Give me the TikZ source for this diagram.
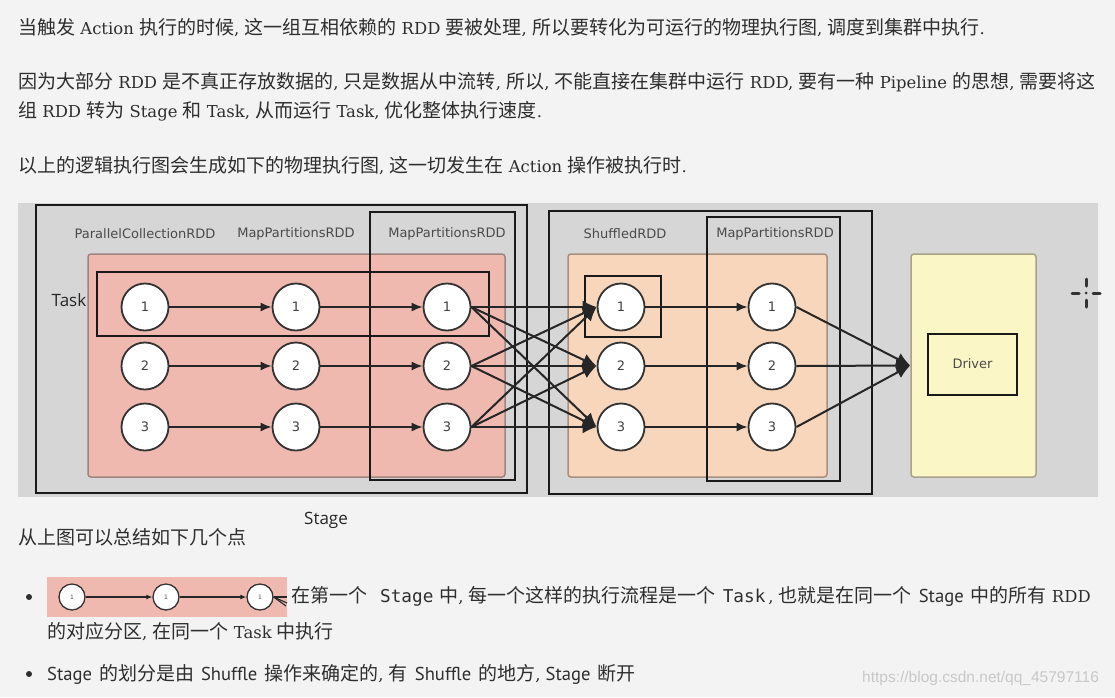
\documentclass[tikz,border=0pt]{standalone}
\usepackage{fontspec}
\setmainfont{Noto Sans CJK SC}
\newfontfamily\lat[Scale=0.865]{DejaVu Serif}
\newfontfamily\dsans{DejaVu Sans}
\newfontfamily\monof[Scale=0.93]{DejaVu Sans Mono}
\newfontfamily\ptsans[Scale=0.98]{PT Sans}
\newfontfamily\osans{Open Sans}
\newfontfamily\wmfont{Liberation Sans}
\usetikzlibrary{arrows.meta}
\definecolor{pagebg}{HTML}{F3F3F3}
\definecolor{diagbg}{HTML}{D6D6D6}
\definecolor{pinkf}{HTML}{EFB9B0}
\definecolor{pinkd}{HTML}{9E8580}
\definecolor{orangef}{HTML}{F8D6BC}
\definecolor{oranged}{HTML}{A89080}
\definecolor{yellowf}{HTML}{FBF6C6}
\definecolor{yellowd}{HTML}{A8A28A}
\definecolor{txtc}{HTML}{2E2E2E}
\definecolor{lblc}{HTML}{4A4A4A}
\definecolor{wmc}{HTML}{C8C8C8}
\newcommand\E[1]{{\lat#1}}
\newcommand\G{\hspace{7pt}}
\begin{document}
\begin{tikzpicture}[x=1pt,y=-1pt,
  txt/.style={anchor=west, inner sep=0pt, text=txtc, font=\fontsize{19}{22}\selectfont},
  lbl/.style={inner sep=0pt, text=lblc, font=\dsans\fontsize{13}{14}\selectfont},
  circ/.style={circle, draw=black!80, line width=1.8pt, fill=white, minimum size=47pt, inner sep=0pt, text=black!75, font=\dsans\fontsize{13}{13}\selectfont},
  minicirc/.style={circle, draw=black!80, line width=1.3pt, fill=white, minimum size=26pt, inner sep=0pt, text=black!70, font=\dsans\fontsize{6}{6}\selectfont},
  frame/.style={draw=black!90, line width=2pt},
  arr/.style={draw=black!85, line width=1.6pt, -{Latex[length=11pt,width=9pt]}},
  minarr/.style={draw=black!85, line width=1.1pt, -{Latex[length=6pt,width=5pt]}},
  sarr/.style={draw=black!85, line width=2pt, -{Latex[length=14pt,width=13pt]}},
  bigsans/.style={inner sep=0pt, text=black!85, font=\osans\fontsize{17}{18}\selectfont}
]
\useasboundingbox (0,0) rectangle (1115,697);
\fill[pagebg] (0,0) rectangle (1115,697);

% top text
\node[txt] (t1) at (18,28) {当触发\E{ Action }执行的时候\E{, }这一组互相依赖的\E{ RDD }要被处理\E{, }所以要转化为可运行的物理执行图\E{, }调度到集群中执行\E{.}};
\node[txt] (t2) at (18,82) {因为大部分\E{ RDD }是不真正存放数据的\E{, }只是数据从中流转\E{, }所以\E{, }不能直接在集群中运行\E{ RDD, }要有一种\E{ Pipeline }的思想\E{, }需要将这};
\node[txt] (t3) at (18,111) {组\E{ RDD }转为\E{ Stage }和\E{ Task, }从而运行\E{ Task, }优化整体执行速度\E{.}};
\node[txt] (t4) at (18,166) {以上的逻辑执行图会生成如下的物理执行图\E{, }这一切发生在\E{ Action }操作被执行时\E{.}};

% diagram background
\fill[diagbg] (18,203) rectangle (1098,497);
\draw[fill=pinkf, draw=pinkd, line width=1.5pt, rounded corners=3pt] (88,254) rectangle (505,477);
\draw[fill=orangef, draw=oranged, line width=1.5pt, rounded corners=3pt] (568,254) rectangle (827,477);
\node[fill=yellowf, draw=yellowd, line width=1.5pt, rounded corners=3pt, minimum width=125pt, minimum height=223pt, inner sep=0pt] (drvbg) at (973.5,365.5) {};

% frames
\draw[frame] (36,205) rectangle (527,493);
\draw[frame] (370,212) rectangle (515,480);
\draw[frame] (97,272) rectangle (489,336);
\draw[frame] (549,211) rectangle (872,494);
\draw[frame] (707,217) rectangle (840,481);
\draw[frame] (585,276) rectangle (661,337);
\node[frame, minimum width=89pt, minimum height=61pt, inner sep=0pt, text=lblc, font=\dsans\fontsize{13}{14}\selectfont] (drv) at (972.5,364) {Driver};

% labels
\node[lbl] (l1) at (145,234) {ParallelCollectionRDD};
\node[lbl] (l2) at (296,234) {MapPartitionsRDD};
\node[lbl] (l3) at (447,234) {MapPartitionsRDD};
\node[lbl] (l4) at (625,234) {ShuffledRDD};
\node[lbl] (l5) at (775,234) {MapPartitionsRDD};
\node[bigsans] (task) at (69,300) {Task};
\node[bigsans] (stage) at (326,520) {Stage};

% circles
\foreach \i/\y in {1/307,2/366,3/427}{
  \node[circ] (a\i) at (145,\y) {\i};
  \node[circ] (b\i) at (296,\y) {\i};
  \node[circ] (c\i) at (447,\y) {\i};
  \node[circ] (s\i) at (621,\y) {\i};
  \node[circ] (m\i) at (772,\y) {\i};
}
\foreach \i in {1,2,3}{
  \draw[arr] (a\i) -- (b\i);
  \draw[arr] (b\i) -- (c\i);
  \draw[arr] (s\i) -- (m\i);
  \draw[sarr] (m\i.east) -- (drvbg.west);
  \foreach \j in {1,2,3}{
    \draw[sarr] (c\i.east) -- (s\j.west);
  }
}

% cursor crosshair
\draw[black!80, line width=3pt, line cap=round] (1086,279) -- (1086,286);
\draw[black!80, line width=3pt, line cap=round] (1086,300) -- (1086,307);
\draw[black!80, line width=3pt, line cap=round] (1072,293) -- (1079,293);
\draw[black!80, line width=3pt, line cap=round] (1093,293) -- (1100,293);
\fill[black!80] (1086,293) circle (1.5);

% bottom text
\node[txt] (b0) at (18,537) {从上图可以总结如下几个点};
\fill[txtc] (29,597) circle (3);
\fill[pinkf] (47,577) rectangle (287,617);
\node[minicirc] (n1) at (72,597) {1};
\node[minicirc] (n2) at (166,597) {1};
\node[minicirc] (n3) at (260,597) {1};
\coordinate (e1) at (287,597);
\coordinate (e2) at (287,603);
\coordinate (e3) at (286,606);
\draw[minarr] (n1) -- (n2);
\draw[minarr] (n2) -- (n3);
\draw[draw=black!85, line width=1.1pt] (n3.east) -- (e1);
\draw[draw=black!85, line width=1.1pt] (n3.east) -- (e2);
\draw[draw=black!85, line width=1.1pt] (n3.east) -- (e3);
\node[txt] (b1) at (291,596) {在第一个\hspace{13pt}{\monof Stage}\hspace{6pt}中\E{, }每一个这样的执行流程是一个\hspace{7pt}{\monof Task}\hspace{3pt}\E{, }也就是在同一个\G{\ptsans Stage}\G 中的所有\E{ RDD}};
\node[txt] (b2) at (47,632) {的对应分区\E{, }在同一个\E{ Task }中执行};
\fill[txtc] (29,674) circle (3);
\node[txt] (b3) at (47,674) {{\ptsans Stage}\G 的划分是由\G{\ptsans Shuffle}\G 操作来确定的\E{, }有\G{\ptsans Shuffle}\G 的地方\E{, }{\ptsans Stage}\G 断开};
\node[anchor=west, inner sep=0pt, text=wmc, font=\wmfont\fontsize{15.5}{16}\selectfont] (wm) at (862,678) {https://blog.csdn.net/qq\_45797116};
\end{tikzpicture}
\end{document}
